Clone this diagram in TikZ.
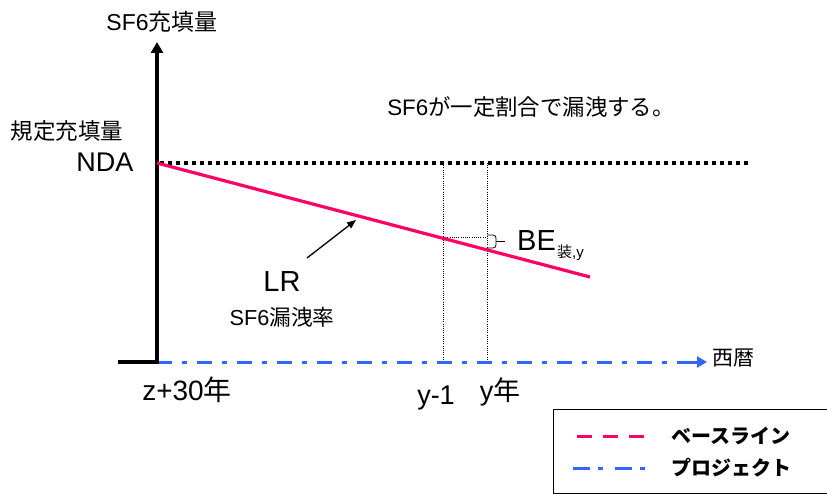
\documentclass[tikz,border=0pt]{standalone}
\usepackage{fontspec}
\setmainfont{Liberation Sans}
\newfontfamily\jp{Noto Sans CJK JP}
\usetikzlibrary{arrows.meta}
\definecolor{pinkc}{RGB}{255,0,102}
\definecolor{bluec}{RGB}{51,102,255}
\tikzset{
  txt/.style={inner sep=0pt, anchor=center},
  axisline/.style={line width=3.5pt, black},
  baseline/.style={line width=3.2pt, pinkc},
  projline/.style={line width=3pt, bluec, dash pattern=on 15pt off 10pt on 5pt off 10pt},
  thindot/.style={line width=0.8pt, dash pattern=on 1pt off 1.2pt},
  thickdot/.style={line width=3.5pt, dash pattern=on 3.5pt off 4.5pt},
}
\newcommand{\fs}[1]{\fontsize{#1}{#1}\selectfont}
\begin{document}
\begin{tikzpicture}[x=1pt,y=-1pt]
\useasboundingbox (0,0) rectangle (827,494);
% coordinates
\coordinate (O) at (157,362);
\coordinate (Ytop) at (157,42);
\coordinate (Xl) at (118,362);
\coordinate (Xr) at (707,362);
\coordinate (N) at (157,163);
\coordinate (Nr) at (750,163);
\coordinate (Pe) at (590,277);
\coordinate (A1) at (443,163);
\coordinate (A1b) at (443,362);
\coordinate (A2) at (487,163);
\coordinate (A2b) at (487,362);
\coordinate (H1) at (443,237);
\coordinate (H2) at (487,237);
\coordinate (Ls) at (307,258);
\coordinate (Le) at (356,220);
% thin dotted guides
\draw[thindot] (A1) -- (A1b);
\draw[thindot] (A2) -- (A2b);
\draw[thindot] (H1) -- (H2);
% NDA dotted
\draw[thickdot] (160,163) -- (Nr);
% project line
\draw[projline] (O) -- (695,362);
\draw[bluec, line width=3pt, -{Triangle[length=10pt,width=11pt]}] (692,362) -- (Xr);
% axes
\draw[axisline, -{Triangle[length=11pt,width=12pt]}] (157,364) -- (Ytop);
\draw[line width=3.3pt] (Xl) -- (158.5,362);
% baseline
\draw[baseline] (N) -- (Pe);
% bracket
\draw[line width=0.8pt, rounded corners=3pt] (487,235) -- (496,235) -- (496,248) -- (487,248);
\draw[line width=0.8pt] (496,241) -- (505,241);
% LR arrow
\draw[line width=1.3pt, -{Triangle[length=9pt,width=7pt]}] (Ls) -- (Le);
% texts
\node[txt] (ylab) at (162,22) {\fs{23}SF6\jp 充填量};
\node[txt] (kitei) at (67,131) {\fs{22.5}\jp 規定充填量};
\node[txt] (nda) at (105,162) {\fs{27}NDA};
\node[txt] (msg) at (531,107) {\fs{22.4}SF6\jp が一定割合で漏洩する。};
\node[txt, anchor=west] (be) at (517,241) {\fs{29}BE};
\node[txt, anchor=west] (besub) at (557,253) {\fs{15}\jp 装\rmfamily ,y};
\node[txt] (lr) at (282,282) {\fs{29}LR};
\node[txt] (lrs) at (282,317) {\fs{21.7}SF6\jp 漏洩率};
\node[txt] (xlab) at (733,358) {\fs{21}\jp 西暦};
\node[txt] (z30) at (187,390) {\fs{28}z+30\jp 年};
\node[txt] (ym1) at (436,398) {\fs{27}y-1};
\node[txt] (yy) at (500,392) {\fs{27}y\jp 年};
% legend
\draw[line width=1pt] (553,409) rectangle (835,493);
\draw[line width=3pt, pinkc, dash pattern=on 15pt off 11pt] (577,436) -- (645,436);
\draw[line width=3pt, bluec, dash pattern=on 17pt off 8pt on 5pt off 12pt] (573,468) -- (645,468);
\node[txt, anchor=west] (lg1) at (671,436) {\fs{20}\jp\bfseries ベースライン};
\node[txt, anchor=west] (lg2) at (671,468) {\fs{20}\jp\bfseries プロジェクト};
\end{tikzpicture}
\end{document}
